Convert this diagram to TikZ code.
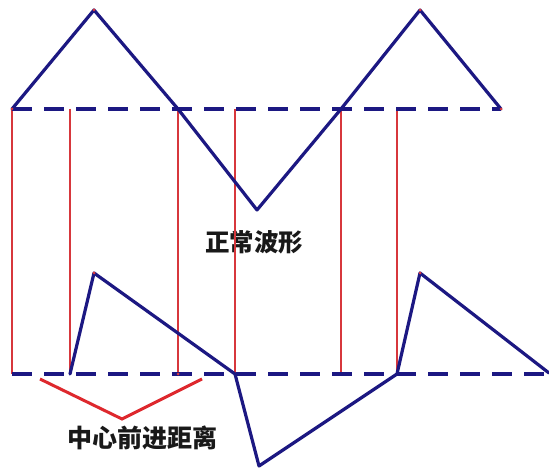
\documentclass[tikz,border=0pt]{standalone}
\usepackage{fontspec}
\newfontfamily\cjk{Noto Sans CJK SC}
\definecolor{wave}{RGB}{28,24,130}
\definecolor{guide}{RGB}{215,55,60}
\definecolor{brace}{RGB}{222,40,45}
\tikzset{
  wavel/.style={draw=wave,line width=3.2pt,line join=round,line cap=round},
  axisl/.style={draw=wave,line width=3.4pt,dash pattern=on 20pt off 12pt},
  guidel/.style={draw=guide,line width=1.1pt},
  bracel/.style={draw=brace,line width=3pt,line join=miter},
  vdot/.style={fill=guide,circle,inner sep=0pt,minimum size=3pt},
  lbl/.style={font=\cjk\bfseries,text=black!90,inner sep=0pt}
}
\begin{document}
\begin{tikzpicture}[x=1pt,y=-1pt]
\useasboundingbox[fill=white] (0,0) rectangle (549,470);
% top wave vertices
\coordinate (t0) at (12,109);
\coordinate (t1) at (94,10);
\coordinate (t2) at (178,109);
\coordinate (t3) at (257,210);
\coordinate (t4) at (341,109);
\coordinate (t5) at (420,10);
\coordinate (t6) at (501,109);
% top axis points for guides
\coordinate (ta) at (70,109);
\coordinate (tb) at (235,109);
\coordinate (tc) at (397,109);
% bottom axis
\coordinate (b0) at (12,374);
\coordinate (ba) at (70,374);
\coordinate (b2) at (178,374);
\coordinate (bb) at (235,374);
\coordinate (b4) at (341,374);
\coordinate (bc) at (397,374);
\coordinate (bend) at (549,374);
% bottom wave
\coordinate (p1) at (94,273);
\coordinate (p2) at (259,466);
\coordinate (p3) at (420,273);
\coordinate (p4) at (549,373);
% brace
\coordinate (r0) at (40,379);
\coordinate (r1) at (122,419);
\coordinate (r2) at (202,379);

% labels (under the guides, as in the reference)
\node[lbl,font=\cjk\bfseries\fontsize{24.5}{26}\selectfont] (normal) at (254,242) {正常波形};
\node[lbl,font=\cjk\bfseries\fontsize{25}{27}\selectfont] (advance) at (142,438) {中心前进距离};

% guides
\draw[guidel] (t0) -- (b0);
\draw[guidel] (ta) -- (ba);
\draw[guidel] (t2) -- (b2);
\draw[guidel] (tb) -- (bb);
\draw[guidel] (t4) -- (b4);
\draw[guidel] (tc) -- (bc);

% axes
\draw[axisl] (t0) -- (t6);
\draw[axisl] (b0) -- (bend);

% waves
\draw[wavel] (t0) -- (t1) -- (t2) -- (t3) -- (t4) -- (t5) -- (t6);
\draw[wavel] (ba) -- (p1) -- (bb) -- (p2) -- (bc) -- (p3) -- (p4);

% vertex dots
\foreach \c in {t0,t1,t6,p1,p3,b2,t5} \node[vdot] at (\c) {};

% brace
\draw[bracel] (r0) -- (r1) -- (r2);
\end{tikzpicture}
\end{document}
